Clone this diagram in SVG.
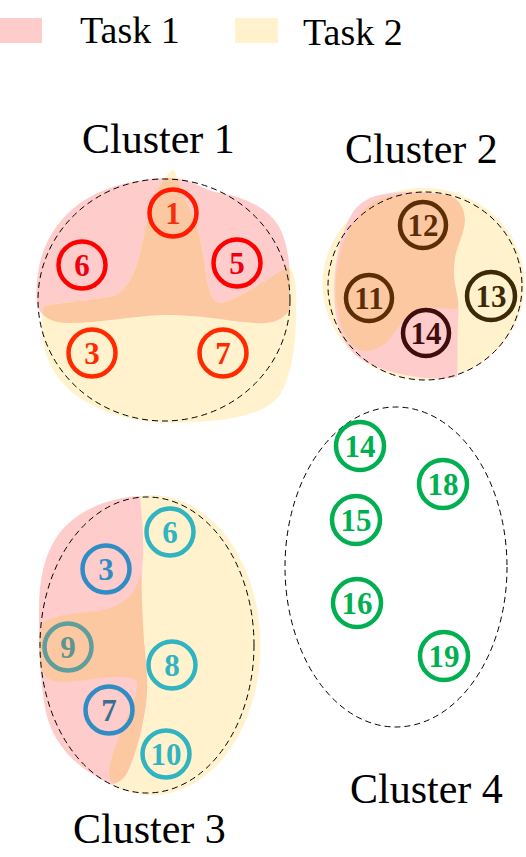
<svg xmlns="http://www.w3.org/2000/svg" width="526" height="857" viewBox="0 0 526 857">
<style>
.lbl{font-family:"Liberation Serif","Times New Roman",serif;font-size:42px;fill:#000}
.leg{font-family:"Liberation Serif","Times New Roman",serif;font-size:38px;fill:#000}
.dash{fill:none;stroke:#000;stroke-width:1;stroke-dasharray:6 4}
.pink{fill:#ffcccc}
.yel{fill:#fff2cc}
.org{fill:#fcc8a2}
.nd{fill:none;stroke-width:4.5}
.nt{font-family:"Liberation Serif","Times New Roman",serif;font-weight:bold;font-size:31px;text-anchor:middle}
</style>
<defs>
<clipPath id="c1pink"><path d="M37,305 C33,260 50,225 80,203 C110,183 145,178 172,178 C190,178 200,188 215,192 C240,196 265,205 278,225 C287,240 290,260 290,285 L290,310 C280,322 270,324 255,323 C220,320 195,314 163,315 C130,316 95,324 65,323 C50,322 40,315 37,305 Z"/></clipPath>
<path id="c1y" d="M43,307 C55,302 85,302 113,296 C130,290 138,265 143,240 C148,215 155,190 165,178 C170,172 172,168 174,170 C178,178 180,190 188,205 C200,225 203,255 207,280 C210,298 215,305 225,302 C245,295 265,280 285,268 C292,266 295,275 296,290 C297,330 295,370 280,395 C265,415 230,422 170,423 C120,422 80,405 60,380 C45,360 38,335 43,307 Z"/>
</defs>

<g id="legend">
<rect x="0" y="18" width="42" height="25" class="pink"/>
<text x="80" y="43" class="leg">Task 1</text>
<rect x="235" y="18" width="43" height="25" class="yel"/>
<text x="303" y="45" class="leg">Task 2</text>
</g>

<g id="cluster1">
<path class="pink" d="M37,305 C33,260 50,225 80,203 C110,183 145,178 172,178 C190,178 200,188 215,192 C240,196 265,205 278,225 C287,240 290,260 290,285 L290,310 C280,322 270,324 255,323 C220,320 195,314 163,315 C130,316 95,324 65,323 C50,322 40,315 37,305 Z"/>
<use href="#c1y" class="yel"/>
<use href="#c1y" class="org" clip-path="url(#c1pink)"/>
<ellipse cx="164" cy="300" rx="126" ry="121" class="dash"/>
<text x="82" y="153" class="lbl">Cluster 1</text>
</g>

<g id="cluster2">
<ellipse cx="423.5" cy="284" rx="101" ry="96" class="yel"/>
<path class="pink" d="M372,197 C395,190 430,190 453,197 C463,203 466,215 463,225 C458,240 452,255 453,270 C455,290 460,300 458,320 C457,340 458,360 457,377 C440,380 420,378 405,375 C390,372 375,367 362,360 C350,352 342,340 338,325 C333,305 333,280 337,258 C340,240 345,225 353,212 C358,205 365,200 372,197 Z"/>
<path class="org" d="M377,200 C395,193 420,191 447,195 C458,198 464,207 465,220 C465,232 457,245 455,258 C452,275 456,290 458,300 C459,305 458,308 455,309 C445,309 435,307 428,308 C418,310 408,315 400,325 C393,335 388,343 380,347 C373,351 365,352 360,350 C350,345 343,335 340,320 C336,305 335,290 336,278 C338,260 342,245 348,232 C355,218 365,207 377,200 Z"/>
<ellipse cx="425" cy="286" rx="97" ry="94" class="dash"/>
<text x="345" y="163" class="lbl">Cluster 2</text>
</g>

<g id="cluster3">
<path class="yel" d="M140,496 C142,515 144,540 143,557 C142,580 141,600 142,623 C143,650 148,670 147,690 C146,715 138,750 127,773 C122,780 117,783 112,785 A109 150 0 1 0 140,496 Z"/>
<path class="pink" d="M140,496 C105,498 75,512 58,535 C44,555 39,580 39,610 C39,650 40,690 48,720 C58,750 80,770 112,785 C117,783 122,780 127,773 C138,750 146,715 147,690 C148,670 143,650 142,623 C141,600 142,580 143,557 C144,540 142,515 140,496 Z"/>
<path class="org" d="M140,573 C142,590 142,605 143,623 C144,650 148,670 147,690 C146,715 138,750 127,773 C123,780 117,784 113,783 C109,780 108,773 110,765 C112,755 118,740 125,722 C131,708 137,695 137,684 C137,678 128,677 118,677 C100,677 80,682 60,682 C48,682 42,675 40,660 C39,645 39,630 43,623 C50,616 75,613 97,611 C112,609 125,603 133,592 C137,586 139,580 140,573 Z"/>
<ellipse cx="147" cy="645" rx="107" ry="148" class="dash"/>
<text x="73" y="843" class="lbl">Cluster 3</text>
</g>

<g id="cluster4">
<ellipse cx="396" cy="567" rx="111" ry="160" class="dash"/>
<text x="350" y="803" class="lbl">Cluster 4</text>
</g>

<g id="connectors"></g>

<g id="n1-1"><circle cx="173" cy="213" r="23.5" class="nd" stroke="#ff1a00"/><text x="173" y="224" class="nt" fill="#f5300a">1</text></g>
<g id="n1-6"><circle cx="82" cy="265" r="23.5" class="nd" stroke="#ff0000"/><text x="82" y="276" class="nt" fill="#ee0010">6</text></g>
<g id="n1-5"><circle cx="237" cy="263" r="23.5" class="nd" stroke="#ff0000"/><text x="237" y="274" class="nt" fill="#ee0010">5</text></g>
<g id="n1-3"><circle cx="92" cy="353" r="23.5" class="nd" stroke="#ff2a00"/><text x="92" y="364" class="nt" fill="#ff2a00">3</text></g>
<g id="n1-7"><circle cx="223" cy="353" r="23.5" class="nd" stroke="#ff2a00"/><text x="223" y="364" class="nt" fill="#ff2a00">7</text></g>

<g id="n2-12"><circle cx="423" cy="225" r="23" class="nd" stroke="#5c2e06"/><text x="423" y="236" class="nt" fill="#5c2e06">12</text></g>
<g id="n2-11"><circle cx="369" cy="298" r="23" class="nd" stroke="#5c2e06"/><text x="369" y="309" class="nt" fill="#5c2e06">11</text></g>
<g id="n2-14"><circle cx="426" cy="333" r="23" class="nd" stroke="#3f0d0d"/><text x="426" y="344" class="nt" fill="#3f0d0d">14</text></g>
<g id="n2-13"><circle cx="491" cy="296" r="24" class="nd" stroke="#3b2a05"/><text x="491" y="307" class="nt" fill="#3b2a05">13</text></g>

<g id="n3-6"><circle cx="170" cy="532" r="23.5" class="nd" stroke="#31b4c2"/><text x="170" y="543" class="nt" fill="#31b4c2">6</text></g>
<g id="n3-3"><circle cx="106" cy="569" r="23.5" class="nd" stroke="#2f8dc4"/><text x="106" y="580" class="nt" fill="#2f8dc4">3</text></g>
<g id="n3-9"><circle cx="68" cy="647" r="23.5" class="nd" stroke="#5f9e9a"/><text x="68" y="658" class="nt" fill="#5f9490">9</text></g>
<g id="n3-8"><circle cx="172" cy="665" r="23.5" class="nd" stroke="#31b4c2"/><text x="172" y="676" class="nt" fill="#31b4c2">8</text></g>
<g id="n3-7"><circle cx="109" cy="710" r="23.5" class="nd" stroke="#2f8dc4"/><text x="109" y="721" class="nt" fill="#3a6f8f">7</text></g>
<g id="n3-10"><circle cx="166" cy="754" r="23.5" class="nd" stroke="#31b4c2"/><text x="166" y="765" class="nt" fill="#31b4c2">10</text></g>

<g id="n4-14"><circle cx="360" cy="446" r="24" class="nd" stroke="#00b050"/><text x="360" y="457" class="nt" fill="#00b050">14</text></g>
<g id="n4-18"><circle cx="443" cy="484" r="24" class="nd" stroke="#00b050"/><text x="443" y="495" class="nt" fill="#00b050">18</text></g>
<g id="n4-15"><circle cx="356" cy="520" r="24" class="nd" stroke="#00b050"/><text x="356" y="531" class="nt" fill="#00b050">15</text></g>
<g id="n4-16"><circle cx="357" cy="603" r="24" class="nd" stroke="#00b050"/><text x="357" y="614" class="nt" fill="#00b050">16</text></g>
<g id="n4-19"><circle cx="444" cy="656" r="24" class="nd" stroke="#00b050"/><text x="444" y="667" class="nt" fill="#00b050">19</text></g>
</svg>
